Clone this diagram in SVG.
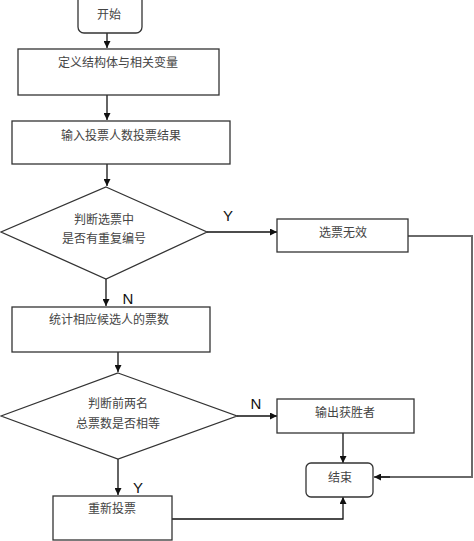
<svg xmlns="http://www.w3.org/2000/svg" width="474" height="541" viewBox="0 0 474 541">
<defs>
<marker id="ah" viewBox="0 0 10 10" refX="10" refY="5" markerWidth="7" markerHeight="7" markerUnits="userSpaceOnUse" orient="auto">
<path d="M0,0 L10,5 L0,10 z" fill="#111"/>
</marker>
<style>
.box{fill:#fff;stroke:#333;stroke-width:1.3}
.t{font-family:"Liberation Serif","Noto Sans CJK SC",serif;font-size:12px;fill:#444;text-anchor:middle}
.lbl{font-family:"Liberation Sans",Arial,sans-serif;font-size:15px;fill:#111;text-anchor:middle}
.ln{fill:none;stroke:#111;stroke-width:1.3}
.gl{fill:none;stroke:#6a6a6a;stroke-width:2}
</style>
</defs>
<rect width="474" height="541" fill="#fff"/>
<g id="connectors">
<path class="ln" d="M107,33 V48" marker-end="url(#ah)"/>
<path class="ln" d="M107,95 V120" marker-end="url(#ah)"/>
<path class="ln" d="M107,164 V186" marker-end="url(#ah)"/>
<path class="ln" d="M207,232 H277" marker-end="url(#ah)"/>
<path class="ln" d="M106,279 V306" marker-end="url(#ah)"/>
<path class="gl" d="M408,236 H472 V477 H378"/>
<path class="ln" d="M390,477 H374" marker-end="url(#ah)"/>
<path class="ln" d="M118,352 V372" marker-end="url(#ah)"/>
<path class="ln" d="M237,416 H277" marker-end="url(#ah)"/>
<path class="ln" d="M343,433 V463" marker-end="url(#ah)"/>
<path class="ln" d="M118,459 V495" marker-end="url(#ah)"/>
<path class="ln" d="M172,519 H343 V497" marker-end="url(#ah)"/>
<text class="lbl" x="228" y="221">Y</text>
<text class="lbl" x="128" y="304">N</text>
<text class="lbl" x="256" y="409">N</text>
<text class="lbl" x="138" y="493">Y</text>
</g>
<g id="start">
<rect class="box" x="78" y="-6" width="64" height="39" rx="6"/>
<text class="t" x="109" y="19">开始</text>
</g>
<g id="define">
<rect class="box" x="18" y="49" width="201" height="46"/>
<text class="t" x="118" y="67">定义结构体与相关变量</text>
</g>
<g id="input">
<rect class="box" x="12" y="121" width="218" height="43"/>
<text class="t" x="121" y="140">输入投票人数投票结果</text>
</g>
<g id="check1">
<polygon class="box" points="106,187 207,232 106,279 1,232"/>
<text class="t" x="104" y="224">判断选票中</text>
<text class="t" x="104" y="243">是否有重复编号</text>
</g>
<g id="invalid">
<rect class="box" x="277" y="219" width="131" height="33"/>
<text class="t" x="343" y="237">选票无效</text>
</g>
<g id="count">
<rect class="box" x="12" y="307" width="198" height="45"/>
<text class="t" x="109" y="324">统计相应候选人的票数</text>
</g>
<g id="check2">
<polygon class="box" points="118,373 237,416 118,459 1,416"/>
<text class="t" x="118" y="408">判断前两名</text>
<text class="t" x="118" y="428">总票数是否相等</text>
</g>
<g id="winner">
<rect class="box" x="277" y="399" width="137" height="34"/>
<text class="t" x="345" y="417">输出获胜者</text>
</g>
<g id="end">
<rect class="box" x="306" y="463" width="67" height="34" rx="5"/>
<text class="t" x="340" y="482">结束</text>
</g>
<g id="revote">
<rect class="box" x="53" y="496" width="119" height="44"/>
<text class="t" x="112" y="513">重新投票</text>
</g>
</svg>
